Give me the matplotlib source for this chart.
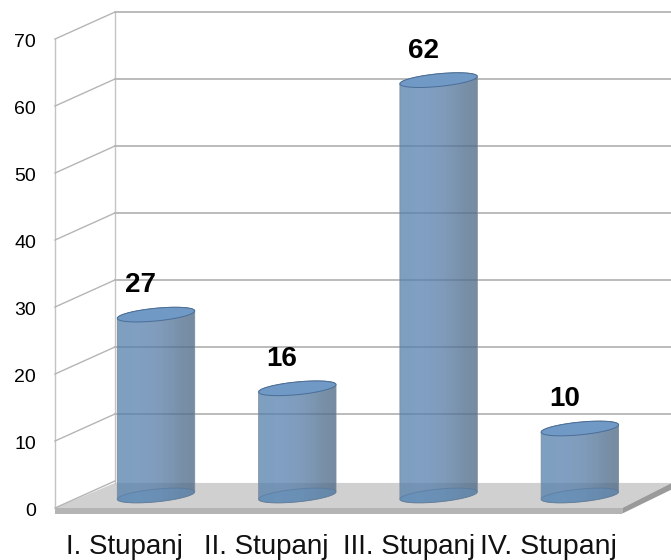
import matplotlib
matplotlib.use('Agg')
import matplotlib.pyplot as plt
import numpy as np
from matplotlib.patches import Polygon

plt.rcParams['font.family'] = ['Liberation Sans', 'DejaVu Sans']

categories = ['I. Stupanj', 'II. Stupanj', 'III. Stupanj', 'IV. Stupanj']
values = [27, 16, 62, 10]
ticks = [0, 10, 20, 30, 40, 50, 60, 70]

# pseudo 3d box, x in category units and y in value units
depth = 1.87
wall_front = -0.715
wall_back = -0.29
floor_front_right = 3.3
floor_back_right = 3.65
half_w = 0.274


def ellipse(cx, v, n=80):
    t = np.linspace(0, 2 * np.pi, n)
    x = cx + half_w * np.cos(t)
    y = v + 0.95 * np.sin(t) + 0.55 * np.cos(t)
    return x, y


fig = plt.figure(figsize=(6.71, 5.6), dpi=100)
ax = fig.add_axes([0, 0, 1, 1])
ax.set_xlim(-1.104, 3.645)
ax.set_ylim(-9.63, 73.96)
ax.axis('off')

# floor
ax.add_patch(Polygon([(wall_front, -depth), (floor_front_right, -depth),
                      (floor_back_right, depth), (wall_back, depth)],
                     fc='#d0d0d0', ec='none', zorder=1))
ax.add_patch(Polygon([(wall_front, -depth), (floor_front_right, -depth),
                      (floor_front_right, -2.7), (wall_front, -2.7)],
                     fc='#b4b4b4', ec='none', zorder=1))
ax.add_patch(Polygon([(floor_front_right, -depth), (floor_back_right, depth),
                      (floor_back_right, 0.9), (floor_front_right, -2.7)],
                     fc='#9a9a9a', ec='none', zorder=1))

# walls and grid
ax.plot([wall_front, wall_front], [-depth, 70 - depth], color='#c4c4c4', lw=1, zorder=2)
ax.plot([wall_back, wall_back], [depth, 70 + depth + 0.3], color='#c4c4c4', lw=1, zorder=2)
for v in ticks:
    ax.plot([wall_front, wall_back], [v - depth, v + depth + 0.3], color='#b5b5b5', lw=1, zorder=2)
    if v > 0:
        ax.plot([wall_back, 3.645], [v + depth + 0.3, v + depth + 0.3],
                color='#b5b5b5', lw=1.3, zorder=2)
    ax.text(-0.85, v - depth - 0.5, str(v), ha='right', va='center', fontsize=14, color='black')

# cylinders
shade = np.array([[[0.33, 0.50, 0.68, 0.75], [0.34, 0.50, 0.68, 0.75],
                   [0.33, 0.47, 0.63, 0.75], [0.31, 0.42, 0.53, 0.78]]])
label_dx = [-23, -22, -21, -22.7]
label_size = [20, 20, 20, 20.5]
for i, (name, val) in enumerate(zip(categories, values)):
    xb, yb = ellipse(i, 0)
    xt, yt = ellipse(i, val)
    body = Polygon(list(zip(xb[40:], yb[40:])) + list(zip(xt[:41], yt[:41])),
                   fc='none', ec='#7b8a9c', lw=0.6, zorder=4)
    ax.add_patch(body)
    im = ax.imshow(shade, extent=[i - half_w, i + half_w, -3, val + 3], aspect='auto',
                   interpolation='bicubic', zorder=3)
    im.set_clip_path(body)
    ax.fill(xb, yb, fc='#5f8fbc', alpha=0.45, ec='#4d6f93', lw=0.7, zorder=5)
    ax.fill(xt, yt, fc='#7199c6', ec='#4a6e96', lw=0.7, zorder=5)
    ax.annotate(str(val), (i, val), xytext=(-11, 21), textcoords='offset points',
                ha='center', va='center', fontsize=20, fontweight='bold', color='black', zorder=6)
    ax.annotate(name, (i, 0), xytext=(label_dx[i], -37), textcoords='offset points',
                ha='center', va='center', fontsize=label_size[i], color='#111111', zorder=6)

ax.set_xlim(-1.104, 3.645)
ax.set_ylim(-9.63, 73.96)
fig.savefig('out.png', dpi=100)
